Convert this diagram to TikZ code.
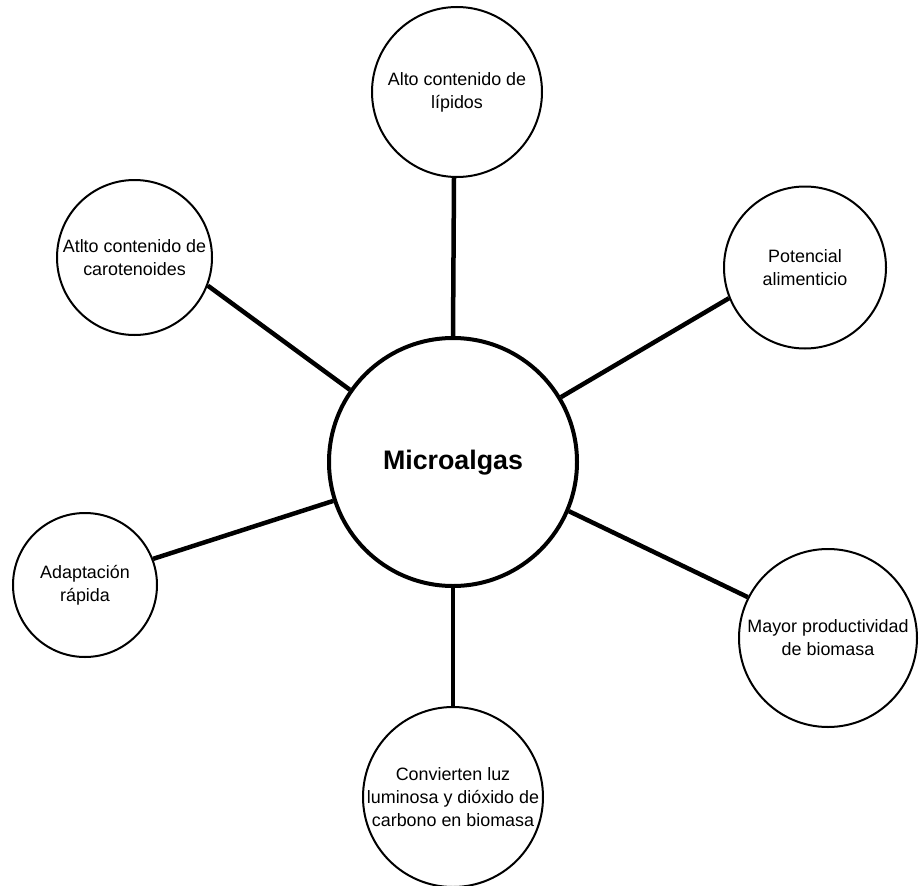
\documentclass[tikz,border=0pt]{standalone}
\usepackage{fontspec}
\setmainfont{Liberation Sans}
\begin{document}
\begin{tikzpicture}[x=1pt,y=-1pt,
  bub/.style={circle,draw=black,line width=2pt,fill=white,inner sep=0pt},
  hub/.style={circle,draw=black,line width=4pt,fill=white,inner sep=0pt,minimum size=248pt},
  txt/.style={align=center,inner sep=0pt,font=\fontsize{17.9}{23}\selectfont},
  conn/.style={line width=4.5pt,draw=black}]
\useasboundingbox (0,0) rectangle (919,886);
% nodes
\node[hub] (c) at (453,462) {};
\node[align=center,inner sep=0pt,font=\bfseries\fontsize{26.8}{32}\selectfont] (ct) at (453,463) {Microalgas};

\node[bub,minimum size=170pt] (lip) at (457,92) {};
\node[txt] (lipt) at (lip) {Alto contenido de\\lípidos};

\node[bub,minimum size=155pt] (car) at (134.5,257.5) {};
\node[txt] (cart) at (car) {Atlto contenido de\\carotenoides};

\node[bub,minimum size=162pt] (pot) at (805,267.5) {};
\node[txt] (pott) at (pot) {Potencial\\alimenticio};

\node[bub,minimum size=144pt] (ada) at (85,585) {};
\node[txt] (adat) at (ada) {Adaptación\\rápida};

\node[bub,minimum size=178pt] (may) at (828,638) {};
\node[txt] (mayt) at (may) {Mayor productividad\\de biomasa};

\node[bub,minimum size=180pt] (conv) at (453,797) {};
\node[txt] (convt) at (conv) {Convierten luz\\luminosa y dióxido de\\carbono en biomasa};

% connectors
\draw[conn] (lip.-92) -- (c.90);
\draw[conn] (car.-21) -- (c.145);
\draw[conn] (pot.-158.6) -- (c.31);
\draw[conn] (ada.21.4) -- (c.198.4);
\draw[conn] (may.153.4) -- (c.-23.2);
\draw[conn] (c.-90) -- (conv.90);
\end{tikzpicture}
\end{document}
